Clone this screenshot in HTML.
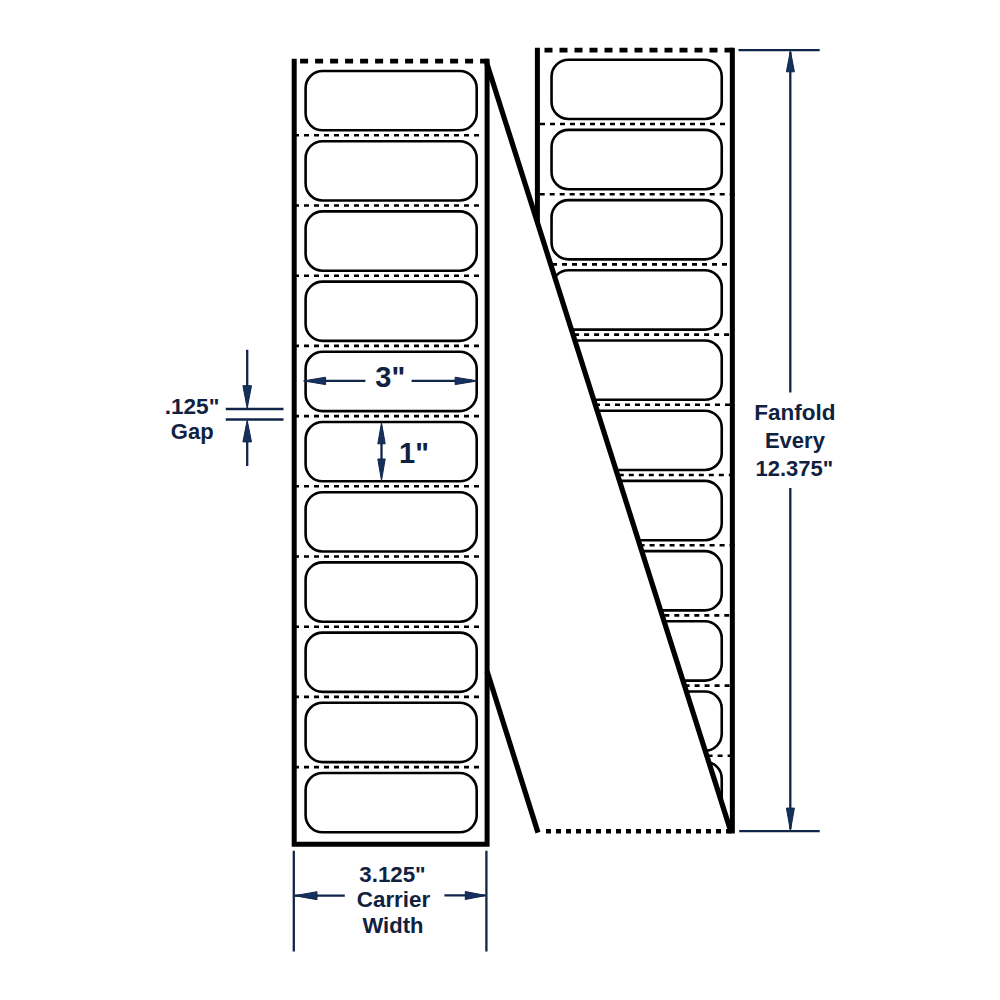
<!DOCTYPE html><html><head><meta charset="utf-8"><style>html,body{margin:0;padding:0;background:#fff;width:1000px;height:1000px;overflow:hidden}svg{display:block}text{font-family:"Liberation Sans",sans-serif;font-weight:bold;fill:#10223f}</style></head><body>
<svg width="1000" height="1000" viewBox="0 0 1000 1000">
<rect width="1000" height="1000" fill="#fff"/>
<rect x="551.55" y="59.70" width="170.2" height="59.3" rx="17" ry="17" fill="none" stroke="#000" stroke-width="2.6"/>
<rect x="551.55" y="129.90" width="170.2" height="59.3" rx="17" ry="17" fill="none" stroke="#000" stroke-width="2.6"/>
<rect x="551.55" y="200.10" width="170.2" height="59.3" rx="17" ry="17" fill="none" stroke="#000" stroke-width="2.6"/>
<rect x="551.55" y="270.30" width="170.2" height="59.3" rx="17" ry="17" fill="none" stroke="#000" stroke-width="2.6"/>
<rect x="551.55" y="340.50" width="170.2" height="59.3" rx="17" ry="17" fill="none" stroke="#000" stroke-width="2.6"/>
<rect x="551.55" y="410.70" width="170.2" height="59.3" rx="17" ry="17" fill="none" stroke="#000" stroke-width="2.6"/>
<rect x="551.55" y="480.90" width="170.2" height="59.3" rx="17" ry="17" fill="none" stroke="#000" stroke-width="2.6"/>
<rect x="551.55" y="551.10" width="170.2" height="59.3" rx="17" ry="17" fill="none" stroke="#000" stroke-width="2.6"/>
<rect x="551.55" y="621.30" width="170.2" height="59.3" rx="17" ry="17" fill="none" stroke="#000" stroke-width="2.6"/>
<rect x="551.55" y="691.50" width="170.2" height="59.3" rx="17" ry="17" fill="none" stroke="#000" stroke-width="2.6"/>
<rect x="551.55" y="761.70" width="170.2" height="59.3" rx="17" ry="17" fill="none" stroke="#000" stroke-width="2.6"/>
<path d="M540.00 122.70h5v2.6h-5zM550.00 122.70h5v2.6h-5zM560.00 122.70h5v2.6h-5zM570.00 122.70h5v2.6h-5zM580.00 122.70h5v2.6h-5zM590.00 122.70h5v2.6h-5zM600.00 122.70h5v2.6h-5zM610.00 122.70h5v2.6h-5zM620.00 122.70h5v2.6h-5zM630.00 122.70h5v2.6h-5zM640.00 122.70h5v2.6h-5zM650.00 122.70h5v2.6h-5zM660.00 122.70h5v2.6h-5zM670.00 122.70h5v2.6h-5zM680.00 122.70h5v2.6h-5zM690.00 122.70h5v2.6h-5zM700.00 122.70h5v2.6h-5zM710.00 122.70h5v2.6h-5zM720.00 122.70h5v2.6h-5z" fill="#000"/>
<path d="M539.70 192.90h5v2.6h-5zM549.70 192.90h5v2.6h-5zM559.70 192.90h5v2.6h-5zM569.70 192.90h5v2.6h-5zM579.70 192.90h5v2.6h-5zM589.70 192.90h5v2.6h-5zM599.70 192.90h5v2.6h-5zM609.70 192.90h5v2.6h-5zM619.70 192.90h5v2.6h-5zM629.70 192.90h5v2.6h-5zM639.70 192.90h5v2.6h-5zM649.70 192.90h5v2.6h-5zM659.70 192.90h5v2.6h-5zM669.70 192.90h5v2.6h-5zM679.70 192.90h5v2.6h-5zM689.70 192.90h5v2.6h-5zM699.70 192.90h5v2.6h-5zM709.70 192.90h5v2.6h-5zM719.70 192.90h5v2.6h-5zM729.70 192.90h5v2.6h-5z" fill="#000"/>
<path d="M542.00 263.10h5v2.6h-5zM552.00 263.10h5v2.6h-5zM562.00 263.10h5v2.6h-5zM572.00 263.10h5v2.6h-5zM582.00 263.10h5v2.6h-5zM592.00 263.10h5v2.6h-5zM602.00 263.10h5v2.6h-5zM612.00 263.10h5v2.6h-5zM622.00 263.10h5v2.6h-5zM632.00 263.10h5v2.6h-5zM642.00 263.10h5v2.6h-5zM652.00 263.10h5v2.6h-5zM662.00 263.10h5v2.6h-5zM672.00 263.10h5v2.6h-5zM682.00 263.10h5v2.6h-5zM692.00 263.10h5v2.6h-5zM702.00 263.10h5v2.6h-5zM712.00 263.10h5v2.6h-5zM722.00 263.10h5v2.6h-5z" fill="#000"/>
<path d="M544.10 333.30h5v2.6h-5zM554.10 333.30h5v2.6h-5zM564.10 333.30h5v2.6h-5zM574.10 333.30h5v2.6h-5zM584.10 333.30h5v2.6h-5zM594.10 333.30h5v2.6h-5zM604.10 333.30h5v2.6h-5zM614.10 333.30h5v2.6h-5zM624.10 333.30h5v2.6h-5zM634.10 333.30h5v2.6h-5zM644.10 333.30h5v2.6h-5zM654.10 333.30h5v2.6h-5zM664.10 333.30h5v2.6h-5zM674.10 333.30h5v2.6h-5zM684.10 333.30h5v2.6h-5zM694.10 333.30h5v2.6h-5zM704.10 333.30h5v2.6h-5zM714.10 333.30h5v2.6h-5zM724.10 333.30h5v2.6h-5z" fill="#000"/>
<path d="M545.00 403.50h5v2.6h-5zM555.00 403.50h5v2.6h-5zM565.00 403.50h5v2.6h-5zM575.00 403.50h5v2.6h-5zM585.00 403.50h5v2.6h-5zM595.00 403.50h5v2.6h-5zM605.00 403.50h5v2.6h-5zM615.00 403.50h5v2.6h-5zM625.00 403.50h5v2.6h-5zM635.00 403.50h5v2.6h-5zM645.00 403.50h5v2.6h-5zM655.00 403.50h5v2.6h-5zM665.00 403.50h5v2.6h-5zM675.00 403.50h5v2.6h-5zM685.00 403.50h5v2.6h-5zM695.00 403.50h5v2.6h-5zM705.00 403.50h5v2.6h-5zM715.00 403.50h5v2.6h-5zM725.00 403.50h5v2.6h-5z" fill="#000"/>
<path d="M538.80 473.70h5v2.6h-5zM548.80 473.70h5v2.6h-5zM558.80 473.70h5v2.6h-5zM568.80 473.70h5v2.6h-5zM578.80 473.70h5v2.6h-5zM588.80 473.70h5v2.6h-5zM598.80 473.70h5v2.6h-5zM608.80 473.70h5v2.6h-5zM618.80 473.70h5v2.6h-5zM628.80 473.70h5v2.6h-5zM638.80 473.70h5v2.6h-5zM648.80 473.70h5v2.6h-5zM658.80 473.70h5v2.6h-5zM668.80 473.70h5v2.6h-5zM678.80 473.70h5v2.6h-5zM688.80 473.70h5v2.6h-5zM698.80 473.70h5v2.6h-5zM708.80 473.70h5v2.6h-5zM718.80 473.70h5v2.6h-5zM728.80 473.70h5v2.6h-5z" fill="#000"/>
<path d="M539.60 543.90h5v2.6h-5zM549.60 543.90h5v2.6h-5zM559.60 543.90h5v2.6h-5zM569.60 543.90h5v2.6h-5zM579.60 543.90h5v2.6h-5zM589.60 543.90h5v2.6h-5zM599.60 543.90h5v2.6h-5zM609.60 543.90h5v2.6h-5zM619.60 543.90h5v2.6h-5zM629.60 543.90h5v2.6h-5zM639.60 543.90h5v2.6h-5zM649.60 543.90h5v2.6h-5zM659.60 543.90h5v2.6h-5zM669.60 543.90h5v2.6h-5zM679.60 543.90h5v2.6h-5zM689.60 543.90h5v2.6h-5zM699.60 543.90h5v2.6h-5zM709.60 543.90h5v2.6h-5zM719.60 543.90h5v2.6h-5zM729.60 543.90h5v2.6h-5z" fill="#000"/>
<path d="M544.30 614.10h5v2.6h-5zM554.30 614.10h5v2.6h-5zM564.30 614.10h5v2.6h-5zM574.30 614.10h5v2.6h-5zM584.30 614.10h5v2.6h-5zM594.30 614.10h5v2.6h-5zM604.30 614.10h5v2.6h-5zM614.30 614.10h5v2.6h-5zM624.30 614.10h5v2.6h-5zM634.30 614.10h5v2.6h-5zM644.30 614.10h5v2.6h-5zM654.30 614.10h5v2.6h-5zM664.30 614.10h5v2.6h-5zM674.30 614.10h5v2.6h-5zM684.30 614.10h5v2.6h-5zM694.30 614.10h5v2.6h-5zM704.30 614.10h5v2.6h-5zM714.30 614.10h5v2.6h-5zM724.30 614.10h5v2.6h-5z" fill="#000"/>
<path d="M544.60 684.30h5v2.6h-5zM554.60 684.30h5v2.6h-5zM564.60 684.30h5v2.6h-5zM574.60 684.30h5v2.6h-5zM584.60 684.30h5v2.6h-5zM594.60 684.30h5v2.6h-5zM604.60 684.30h5v2.6h-5zM614.60 684.30h5v2.6h-5zM624.60 684.30h5v2.6h-5zM634.60 684.30h5v2.6h-5zM644.60 684.30h5v2.6h-5zM654.60 684.30h5v2.6h-5zM664.60 684.30h5v2.6h-5zM674.60 684.30h5v2.6h-5zM684.60 684.30h5v2.6h-5zM694.60 684.30h5v2.6h-5zM704.60 684.30h5v2.6h-5zM714.60 684.30h5v2.6h-5zM724.60 684.30h5v2.6h-5z" fill="#000"/>
<path d="M537.60 754.50h5v2.6h-5zM547.60 754.50h5v2.6h-5zM557.60 754.50h5v2.6h-5zM567.60 754.50h5v2.6h-5zM577.60 754.50h5v2.6h-5zM587.60 754.50h5v2.6h-5zM597.60 754.50h5v2.6h-5zM607.60 754.50h5v2.6h-5zM617.60 754.50h5v2.6h-5zM627.60 754.50h5v2.6h-5zM637.60 754.50h5v2.6h-5zM647.60 754.50h5v2.6h-5zM657.60 754.50h5v2.6h-5zM667.60 754.50h5v2.6h-5zM677.60 754.50h5v2.6h-5zM687.60 754.50h5v2.6h-5zM697.60 754.50h5v2.6h-5zM707.60 754.50h5v2.6h-5zM717.60 754.50h5v2.6h-5zM727.60 754.50h5v2.6h-5z" fill="#000"/>
<path d="M537.4 47.8V831M732.35 47.8V833.5" stroke="#000" stroke-width="5" fill="none"/>
<path d="M544.50 47.80h8v4.8h-8zM559.50 47.80h8v4.8h-8zM574.50 47.80h8v4.8h-8zM589.50 47.80h8v4.8h-8zM604.50 47.80h8v4.8h-8zM619.50 47.80h8v4.8h-8zM634.50 47.80h8v4.8h-8zM649.50 47.80h8v4.8h-8zM664.50 47.80h8v4.8h-8zM679.50 47.80h8v4.8h-8zM694.50 47.80h8v4.8h-8zM709.50 47.80h8v4.8h-8zM724.50 47.80h8v4.8h-8z" fill="#000"/>
<path d="M486.1 61L730.7 831L537.5 831L487.1 671.2Z" fill="#fff"/>
<path d="M486.1 61L731.2 832.6M487.1 671.2L538 832.6" stroke="#000" stroke-width="5.2" fill="none"/>
<path d="M546.00 828.95h5v4.5h-5zM556.00 828.95h5v4.5h-5zM566.00 828.95h5v4.5h-5zM576.00 828.95h5v4.5h-5zM586.00 828.95h5v4.5h-5zM596.00 828.95h5v4.5h-5zM606.00 828.95h5v4.5h-5zM616.00 828.95h5v4.5h-5zM626.00 828.95h5v4.5h-5zM636.00 828.95h5v4.5h-5zM646.00 828.95h5v4.5h-5zM656.00 828.95h5v4.5h-5zM666.00 828.95h5v4.5h-5zM676.00 828.95h5v4.5h-5zM686.00 828.95h5v4.5h-5zM696.00 828.95h5v4.5h-5zM706.00 828.95h5v4.5h-5zM716.00 828.95h5v4.5h-5zM726.00 828.95h5v4.5h-5z" fill="#000"/>
<rect x="305.6" y="71.00" width="171.1" height="59.3" rx="17" ry="17" fill="none" stroke="#000" stroke-width="2.6"/>
<rect x="305.6" y="141.20" width="171.1" height="59.3" rx="17" ry="17" fill="none" stroke="#000" stroke-width="2.6"/>
<rect x="305.6" y="211.40" width="171.1" height="59.3" rx="17" ry="17" fill="none" stroke="#000" stroke-width="2.6"/>
<rect x="305.6" y="281.60" width="171.1" height="59.3" rx="17" ry="17" fill="none" stroke="#000" stroke-width="2.6"/>
<rect x="305.6" y="351.80" width="171.1" height="59.3" rx="17" ry="17" fill="none" stroke="#000" stroke-width="2.6"/>
<rect x="305.6" y="422.00" width="171.1" height="59.3" rx="17" ry="17" fill="none" stroke="#000" stroke-width="2.6"/>
<rect x="305.6" y="492.20" width="171.1" height="59.3" rx="17" ry="17" fill="none" stroke="#000" stroke-width="2.6"/>
<rect x="305.6" y="562.40" width="171.1" height="59.3" rx="17" ry="17" fill="none" stroke="#000" stroke-width="2.6"/>
<rect x="305.6" y="632.60" width="171.1" height="59.3" rx="17" ry="17" fill="none" stroke="#000" stroke-width="2.6"/>
<rect x="305.6" y="702.80" width="171.1" height="59.3" rx="17" ry="17" fill="none" stroke="#000" stroke-width="2.6"/>
<rect x="305.6" y="773.00" width="171.1" height="59.3" rx="17" ry="17" fill="none" stroke="#000" stroke-width="2.6"/>
<path d="M294.00 134.00h5v2.6h-5zM304.00 134.00h5v2.6h-5zM314.00 134.00h5v2.6h-5zM324.00 134.00h5v2.6h-5zM334.00 134.00h5v2.6h-5zM344.00 134.00h5v2.6h-5zM354.00 134.00h5v2.6h-5zM364.00 134.00h5v2.6h-5zM374.00 134.00h5v2.6h-5zM384.00 134.00h5v2.6h-5zM394.00 134.00h5v2.6h-5zM404.00 134.00h5v2.6h-5zM414.00 134.00h5v2.6h-5zM424.00 134.00h5v2.6h-5zM434.00 134.00h5v2.6h-5zM444.00 134.00h5v2.6h-5zM454.00 134.00h5v2.6h-5zM464.00 134.00h5v2.6h-5zM474.00 134.00h5v2.6h-5z" fill="#000"/>
<path d="M294.00 204.20h5v2.6h-5zM304.00 204.20h5v2.6h-5zM314.00 204.20h5v2.6h-5zM324.00 204.20h5v2.6h-5zM334.00 204.20h5v2.6h-5zM344.00 204.20h5v2.6h-5zM354.00 204.20h5v2.6h-5zM364.00 204.20h5v2.6h-5zM374.00 204.20h5v2.6h-5zM384.00 204.20h5v2.6h-5zM394.00 204.20h5v2.6h-5zM404.00 204.20h5v2.6h-5zM414.00 204.20h5v2.6h-5zM424.00 204.20h5v2.6h-5zM434.00 204.20h5v2.6h-5zM444.00 204.20h5v2.6h-5zM454.00 204.20h5v2.6h-5zM464.00 204.20h5v2.6h-5zM474.00 204.20h5v2.6h-5z" fill="#000"/>
<path d="M294.00 274.40h5v2.6h-5zM304.00 274.40h5v2.6h-5zM314.00 274.40h5v2.6h-5zM324.00 274.40h5v2.6h-5zM334.00 274.40h5v2.6h-5zM344.00 274.40h5v2.6h-5zM354.00 274.40h5v2.6h-5zM364.00 274.40h5v2.6h-5zM374.00 274.40h5v2.6h-5zM384.00 274.40h5v2.6h-5zM394.00 274.40h5v2.6h-5zM404.00 274.40h5v2.6h-5zM414.00 274.40h5v2.6h-5zM424.00 274.40h5v2.6h-5zM434.00 274.40h5v2.6h-5zM444.00 274.40h5v2.6h-5zM454.00 274.40h5v2.6h-5zM464.00 274.40h5v2.6h-5zM474.00 274.40h5v2.6h-5z" fill="#000"/>
<path d="M294.00 344.60h5v2.6h-5zM304.00 344.60h5v2.6h-5zM314.00 344.60h5v2.6h-5zM324.00 344.60h5v2.6h-5zM334.00 344.60h5v2.6h-5zM344.00 344.60h5v2.6h-5zM354.00 344.60h5v2.6h-5zM364.00 344.60h5v2.6h-5zM374.00 344.60h5v2.6h-5zM384.00 344.60h5v2.6h-5zM394.00 344.60h5v2.6h-5zM404.00 344.60h5v2.6h-5zM414.00 344.60h5v2.6h-5zM424.00 344.60h5v2.6h-5zM434.00 344.60h5v2.6h-5zM444.00 344.60h5v2.6h-5zM454.00 344.60h5v2.6h-5zM464.00 344.60h5v2.6h-5zM474.00 344.60h5v2.6h-5z" fill="#000"/>
<path d="M294.00 414.80h5v2.6h-5zM304.00 414.80h5v2.6h-5zM314.00 414.80h5v2.6h-5zM324.00 414.80h5v2.6h-5zM334.00 414.80h5v2.6h-5zM344.00 414.80h5v2.6h-5zM354.00 414.80h5v2.6h-5zM364.00 414.80h5v2.6h-5zM374.00 414.80h5v2.6h-5zM384.00 414.80h5v2.6h-5zM394.00 414.80h5v2.6h-5zM404.00 414.80h5v2.6h-5zM414.00 414.80h5v2.6h-5zM424.00 414.80h5v2.6h-5zM434.00 414.80h5v2.6h-5zM444.00 414.80h5v2.6h-5zM454.00 414.80h5v2.6h-5zM464.00 414.80h5v2.6h-5zM474.00 414.80h5v2.6h-5z" fill="#000"/>
<path d="M294.00 485.00h5v2.6h-5zM304.00 485.00h5v2.6h-5zM314.00 485.00h5v2.6h-5zM324.00 485.00h5v2.6h-5zM334.00 485.00h5v2.6h-5zM344.00 485.00h5v2.6h-5zM354.00 485.00h5v2.6h-5zM364.00 485.00h5v2.6h-5zM374.00 485.00h5v2.6h-5zM384.00 485.00h5v2.6h-5zM394.00 485.00h5v2.6h-5zM404.00 485.00h5v2.6h-5zM414.00 485.00h5v2.6h-5zM424.00 485.00h5v2.6h-5zM434.00 485.00h5v2.6h-5zM444.00 485.00h5v2.6h-5zM454.00 485.00h5v2.6h-5zM464.00 485.00h5v2.6h-5zM474.00 485.00h5v2.6h-5z" fill="#000"/>
<path d="M294.00 555.20h5v2.6h-5zM304.00 555.20h5v2.6h-5zM314.00 555.20h5v2.6h-5zM324.00 555.20h5v2.6h-5zM334.00 555.20h5v2.6h-5zM344.00 555.20h5v2.6h-5zM354.00 555.20h5v2.6h-5zM364.00 555.20h5v2.6h-5zM374.00 555.20h5v2.6h-5zM384.00 555.20h5v2.6h-5zM394.00 555.20h5v2.6h-5zM404.00 555.20h5v2.6h-5zM414.00 555.20h5v2.6h-5zM424.00 555.20h5v2.6h-5zM434.00 555.20h5v2.6h-5zM444.00 555.20h5v2.6h-5zM454.00 555.20h5v2.6h-5zM464.00 555.20h5v2.6h-5zM474.00 555.20h5v2.6h-5z" fill="#000"/>
<path d="M294.00 625.40h5v2.6h-5zM304.00 625.40h5v2.6h-5zM314.00 625.40h5v2.6h-5zM324.00 625.40h5v2.6h-5zM334.00 625.40h5v2.6h-5zM344.00 625.40h5v2.6h-5zM354.00 625.40h5v2.6h-5zM364.00 625.40h5v2.6h-5zM374.00 625.40h5v2.6h-5zM384.00 625.40h5v2.6h-5zM394.00 625.40h5v2.6h-5zM404.00 625.40h5v2.6h-5zM414.00 625.40h5v2.6h-5zM424.00 625.40h5v2.6h-5zM434.00 625.40h5v2.6h-5zM444.00 625.40h5v2.6h-5zM454.00 625.40h5v2.6h-5zM464.00 625.40h5v2.6h-5zM474.00 625.40h5v2.6h-5z" fill="#000"/>
<path d="M294.00 695.60h5v2.6h-5zM304.00 695.60h5v2.6h-5zM314.00 695.60h5v2.6h-5zM324.00 695.60h5v2.6h-5zM334.00 695.60h5v2.6h-5zM344.00 695.60h5v2.6h-5zM354.00 695.60h5v2.6h-5zM364.00 695.60h5v2.6h-5zM374.00 695.60h5v2.6h-5zM384.00 695.60h5v2.6h-5zM394.00 695.60h5v2.6h-5zM404.00 695.60h5v2.6h-5zM414.00 695.60h5v2.6h-5zM424.00 695.60h5v2.6h-5zM434.00 695.60h5v2.6h-5zM444.00 695.60h5v2.6h-5zM454.00 695.60h5v2.6h-5zM464.00 695.60h5v2.6h-5zM474.00 695.60h5v2.6h-5z" fill="#000"/>
<path d="M294.00 765.80h5v2.6h-5zM304.00 765.80h5v2.6h-5zM314.00 765.80h5v2.6h-5zM324.00 765.80h5v2.6h-5zM334.00 765.80h5v2.6h-5zM344.00 765.80h5v2.6h-5zM354.00 765.80h5v2.6h-5zM364.00 765.80h5v2.6h-5zM374.00 765.80h5v2.6h-5zM384.00 765.80h5v2.6h-5zM394.00 765.80h5v2.6h-5zM404.00 765.80h5v2.6h-5zM414.00 765.80h5v2.6h-5zM424.00 765.80h5v2.6h-5zM434.00 765.80h5v2.6h-5zM444.00 765.80h5v2.6h-5zM454.00 765.80h5v2.6h-5zM464.00 765.80h5v2.6h-5zM474.00 765.80h5v2.6h-5z" fill="#000"/>
<path d="M294.2 58.8V844.3H487.1V58.8" stroke="#000" stroke-width="5" fill="none" stroke-linejoin="miter"/>
<path d="M300.10 58.80h8v4.8h-8zM315.10 58.80h8v4.8h-8zM330.10 58.80h8v4.8h-8zM345.10 58.80h8v4.8h-8zM360.10 58.80h8v4.8h-8zM375.10 58.80h8v4.8h-8zM390.10 58.80h8v4.8h-8zM405.10 58.80h8v4.8h-8zM420.10 58.80h8v4.8h-8zM435.10 58.80h8v4.8h-8zM450.10 58.80h8v4.8h-8zM465.10 58.80h8v4.8h-8zM480.10 58.80h8v4.8h-8z" fill="#000"/>
<path d="M738.5 50.2H819.7M739.2 831.1H819.7M790.3 52V392.6M790.3 488V829" stroke="#10254a" stroke-width="2.3" fill="none"/>
<path d="M790.40 50.80L786.40 71.80L794.40 71.80Z" fill="#15305c" stroke="#10254a" stroke-width="1" stroke-linejoin="round"/>
<path d="M790.40 830.60L794.40 808.10L786.40 808.10Z" fill="#15305c" stroke="#10254a" stroke-width="1" stroke-linejoin="round"/>
<path d="M293.8 850.8V951.6M486.4 850.8V951.6M295 895.6H344.8M444.4 895.4H485" stroke="#10254a" stroke-width="2.3" fill="none"/>
<path d="M294.50 895.70L317.00 899.70L317.00 891.70Z" fill="#15305c" stroke="#10254a" stroke-width="1" stroke-linejoin="round"/>
<path d="M485.80 895.50L465.30 891.50L465.30 899.50Z" fill="#15305c" stroke="#10254a" stroke-width="1" stroke-linejoin="round"/>
<path d="M247.2 349.75V400M225.75 409H283.5M225.75 419.5H283.5M247.2 430V466" stroke="#10254a" stroke-width="2.3" fill="none"/>
<path d="M247.20 408.20L251.50 385.70L242.90 385.70Z" fill="#15305c" stroke="#10254a" stroke-width="1" stroke-linejoin="round"/>
<path d="M247.20 420.40L242.90 441.90L251.50 441.90Z" fill="#15305c" stroke="#10254a" stroke-width="1" stroke-linejoin="round"/>
<path d="M310 380.9H365.4M411.6 380.9H472" stroke="#10254a" stroke-width="2.3" fill="none"/>
<path d="M303.60 380.90L325.60 384.60L325.60 377.20Z" fill="#15305c" stroke="#10254a" stroke-width="1" stroke-linejoin="round"/>
<path d="M477.60 380.90L455.10 377.20L455.10 384.60Z" fill="#15305c" stroke="#10254a" stroke-width="1" stroke-linejoin="round"/>
<path d="M381.5 430V472" stroke="#10254a" stroke-width="2.3" fill="none"/>
<path d="M381.50 422.80L377.80 443.80L385.20 443.80Z" fill="#15305c" stroke="#10254a" stroke-width="1" stroke-linejoin="round"/>
<path d="M381.50 480.50L385.20 459.00L377.80 459.00Z" fill="#15305c" stroke="#10254a" stroke-width="1" stroke-linejoin="round"/>
<text x="392.5" y="882" font-size="22.3" text-anchor="middle">3.125"</text>
<text x="393.5" y="907" font-size="22.4" text-anchor="middle">Carrier</text>
<text x="393" y="932.6" font-size="22" text-anchor="middle">Width</text>
<text x="192" y="413.7" font-size="22.6" text-anchor="middle">.125"</text>
<text x="192.2" y="439.3" font-size="22" text-anchor="middle">Gap</text>
<text x="794.9" y="420.2" font-size="22.5" text-anchor="middle">Fanfold</text>
<text x="794.9" y="448.4" font-size="22" text-anchor="middle">Every</text>
<text x="794.3" y="476" font-size="22" text-anchor="middle">12.375"</text>
<text x="390.3" y="387.4" font-size="29" text-anchor="middle">3"</text>
<text x="414" y="463" font-size="29" text-anchor="middle">1"</text>
</svg></body></html>
